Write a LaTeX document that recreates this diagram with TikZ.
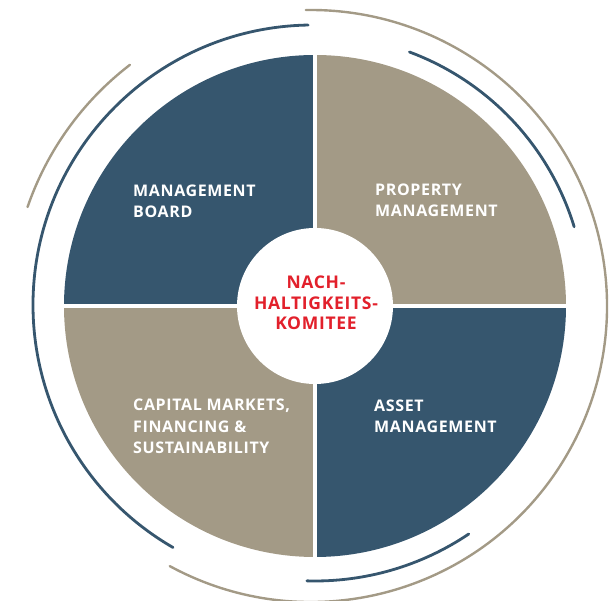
\documentclass[tikz,border=0pt]{standalone}
\usepackage{fontspec}
\newfontfamily\labelfont{Open Sans}[LetterSpace=4]
\definecolor{slateblue}{HTML}{36566E}
\definecolor{taupe}{HTML}{A39A86}
\definecolor{signalred}{HTML}{E2202B}
\begin{document}
\begin{tikzpicture}[x=1pt,y=1pt,
  label/.style={text=white, anchor=base west, align=left, inner sep=0pt,
    font=\labelfont\bfseries\fontsize{16}{21.5}\selectfont},
  centre/.style={text=signalred, anchor=base, align=center, inner sep=0pt,
    font=\labelfont\bfseries\fontsize{17.5}{20.5}\selectfont},
  bluearc/.style={draw=slateblue, line width=2.8pt, line cap=round},
  greyarc/.style={draw=taupe, line width=2.4pt, line cap=round}]
\useasboundingbox (-315,-295) rectangle (295,306);

% four quadrants of the disc
\def\R{251}
\fill[slateblue] (0,0) -- (0,\R) arc[start angle=90, end angle=180, radius=\R] -- cycle;
\fill[taupe] (0,0) -- (\R,0) arc[start angle=0, end angle=90, radius=\R] -- cycle;
\fill[taupe] (0,0) -- (-\R,0) arc[start angle=180, end angle=270, radius=\R] -- cycle;
\fill[slateblue] (0,0) -- (0,-\R) arc[start angle=270, end angle=360, radius=\R] -- cycle;
% white gaps between quadrants
\draw[white, line width=3.2pt] (-\R-2,0) -- (\R+2,0);
\draw[white, line width=3.2pt] (0,-\R-2) -- (0,\R+2);
% centre disc
\fill[white] (0,0) circle[radius=78];

% surrounding arcs
\draw[bluearc] (-2,1) ++(91:280) arc[start angle=91, end angle=240, radius=280];
\draw[greyarc] (-4,0) ++(-118.5:296) arc[start angle=-118.5, end angle=91, radius=296];
\draw[greyarc] (0,0) ++(127.5:304) arc[start angle=127.5, end angle=161, radius=304];
\draw[bluearc] (0,0) ++(17:271) arc[start angle=17, end angle=69.6, radius=271];
\draw[bluearc] (0,0) ++(-91.7:275) arc[start angle=-91.7, end angle=-56, radius=275];

% labels (anchored at the baseline of their last line)
\node[label] (board) at (-182,88) {MANAGEMENT\\BOARD};
\node[label] (property) at (60,89) {PROPERTY\\MANAGEMENT};
\node[label] (capital) at (-182,-148) {CAPITAL MARKETS,\\FINANCING \&\\SUSTAINABILITY};
\node[label] (asset) at (59,-127) {ASSET\\MANAGEMENT};
\node[centre] (committee) at (1,-24) {NACH-\\HALTIGKEITS-\\KOMITEE};
\end{tikzpicture}
\end{document}
